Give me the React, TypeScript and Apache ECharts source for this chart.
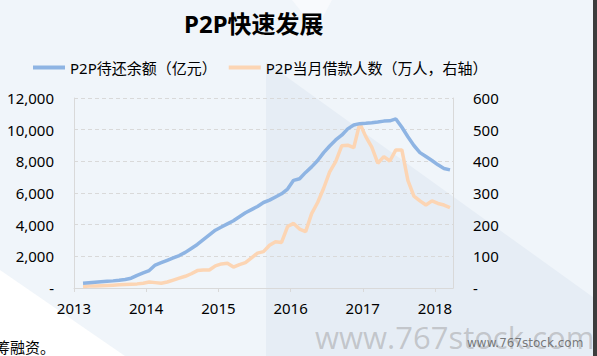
import React, { useEffect, useRef } from "react";
import * as echarts from "echarts";

// Monthly data, Feb 2013 .. Mar 2018
const startYear = 2013;
const startMonthIndex = 1; // February 2013 (0 = January)
const balance = [
  300, 330, 360, 390, 420, 450, 490, 540, 620, 800, 950, 1100,
  1450, 1600, 1750, 1900, 2050, 2250, 2500, 2750, 3050, 3350, 3650, 3850,
  4050, 4250, 4500, 4750, 4950, 5150, 5400, 5550, 5750, 5950, 6250, 6800,
  6900, 7300, 7650, 8050, 8550, 8970, 9350, 9650, 10050, 10300, 10380, 10400,
  10430, 10480, 10540, 10560, 10680, 10150, 9550, 9000, 8550, 8300, 8050, 7780,
  7550, 7460,
];
const borrowers = [
  5, 6, 6, 7, 8, 9, 10, 11, 12, 13, 15, 19,
  17, 15, 19, 25, 31, 37, 45, 55, 57, 57, 70, 76,
  78, 66, 74, 80, 95, 110, 115, 135, 146, 144, 194, 204,
  186, 178, 235, 270, 315, 367, 399, 449, 451, 443, 520, 478,
  445, 394, 415, 401, 436, 436, 340, 290, 275, 262, 275, 267,
  262, 254,
];
const seriesNames = ["P2P待还余额（亿元）", "P2P当月借款人数（万人，右轴）"];
const title = "P2P快速发展";

const FONT = "'Noto Sans', 'Noto Sans CJK SC', sans-serif";

export default function App() {
  const ref = useRef<HTMLDivElement>(null);
  useEffect(() => {
    if (!ref.current) return;
    const chart = echarts.init(ref.current, undefined, { renderer: "svg" });
    const xOf = (i: number) => startYear + (startMonthIndex + i + 0.5) / 12;
    const blueData = balance.map((v, i) => [xOf(i), v]);
    const orangeData = borrowers.map((v, i) => [xOf(i), v]);
    chart.setOption({
      animation: false,
      backgroundColor: "#f0f5fa",
      textStyle: { fontFamily: FONT },
      title: {
        text: title,
        left: 179,
        top: 6,
        textStyle: { fontSize: 24, fontWeight: "bold", color: "#000", fontFamily: FONT },
      },
      legend: {
        left: 28,
        top: 55,
        icon: "rect",
        itemWidth: 32,
        itemHeight: 4,
        itemGap: 12,
        textStyle: { fontSize: 15, color: "#000", fontFamily: FONT },
        data: seriesNames,
      },
      graphic: [
        {
          type: "polygon",
          z: -10,
          silent: true,
          shape: { points: [[266, 62], [597, 300], [597, 356], [266, 356]] },
          style: { fill: "#e6edf5" },
        },
        {
          type: "polygon",
          z: -9,
          silent: true,
          shape: { points: [[0, 270], [125, 356], [0, 356]] },
          style: { fill: "#ffffff" },
        },
        {
          type: "polygon",
          z: -9,
          silent: true,
          shape: { points: [[292, 0], [332, 0], [318, 26], [308, 20]] },
          style: { fill: "#f8fafd" },
        },
        {
          type: "rect",
          z: 10,
          silent: true,
          shape: { x: 593, y: 0, width: 4, height: 356 },
          style: { fill: "#3c3c3c" },
        },
        {
          type: "text",
          z: 10,
          silent: true,
          x: -5,
          y: 339,
          style: { text: "筹融资。", fontSize: 15, fill: "#000", fontFamily: FONT },
        },
        {
          type: "text",
          z: 9,
          silent: true,
          x: 315,
          y: 321,
          style: {
            text: "www.767stock.com",
            fontSize: 31,
            fill: "rgba(150,150,150,0.45)",
            fontFamily: "'Open Sans', sans-serif",
          },
        },
        {
          type: "text",
          z: 10,
          silent: true,
          x: 467,
          y: 337,
          style: {
            text: "www.767stock.com",
            fontSize: 12,
            fill: "rgba(90,90,90,0.8)",
            fontFamily: "'DejaVu Sans', sans-serif",
          },
        },
      ],
      grid: { left: 74, right: 144, top: 98, bottom: 68 },
      xAxis: {
        type: "value",
        min: 2013,
        max: 2018.25,
        interval: 1,
        axisLine: { show: true, lineStyle: { color: "#d9d9d9", width: 1 } },
        axisTick: { show: true, length: 4, lineStyle: { color: "#d9d9d9" } },
        splitLine: { show: false },
        axisLabel: {
          color: "#000",
          fontSize: 15,
          margin: 12,
          fontFamily: FONT,
          formatter: (v: number) => String(Math.round(v)),
        },
      },
      yAxis: [
        {
          type: "value",
          min: 0,
          max: 12000,
          interval: 2000,
          axisLine: { show: true, lineStyle: { color: "#d9d9d9" } },
          axisTick: { show: false },
          splitLine: { show: true, lineStyle: { color: "#d9d9d9", type: [4, 3] } },
          axisLabel: {
            color: "#000",
            fontSize: 15,
            margin: 20,
            fontFamily: FONT,
            formatter: (v: number) => (v === 0 ? "-" : v.toLocaleString("en-US")),
          },
        },
        {
          type: "value",
          min: 0,
          max: 600,
          interval: 100,
          position: "right",
          axisLine: { show: true, lineStyle: { color: "#d9d9d9" } },
          axisTick: { show: false },
          splitLine: { show: false },
          axisLabel: {
            color: "#000",
            fontSize: 15,
            margin: 20,
            fontFamily: FONT,
            formatter: (v: number) => (v === 0 ? "-" : String(v)),
          },
        },
      ],
      series: [
        {
          name: seriesNames[0],
          type: "line",
          yAxisIndex: 0,
          data: blueData,
          showSymbol: false,
          symbol: "none",
          color: "#8eb4e3",
          lineStyle: { width: 3.5, color: "#8eb4e3" },
          z: 3,
        },
        {
          name: seriesNames[1],
          type: "line",
          yAxisIndex: 1,
          data: orangeData,
          showSymbol: false,
          symbol: "none",
          color: "#fcd5b4",
          lineStyle: { width: 3.5, color: "#fcd5b4" },
          z: 2,
        },
      ],
    });
    return () => chart.dispose();
  }, []);
  return (
    <div
      ref={ref}
      style={{ position: "absolute", left: 0, top: 0, width: 597, height: 356 }}
    />
  );
}
